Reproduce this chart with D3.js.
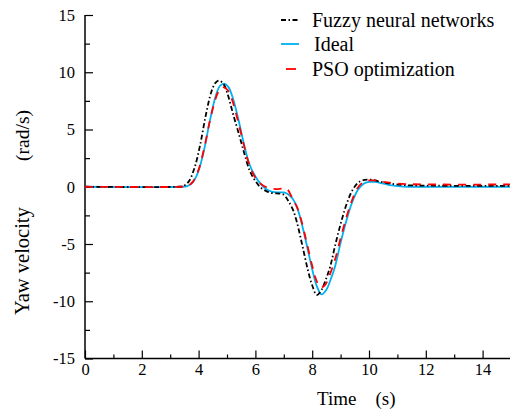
<!DOCTYPE html>
<html><head><meta charset="utf-8">
<script src="https://cdn.jsdelivr.net/npm/d3@7"></script>
<style>
html,body{margin:0;padding:0;background:#fff;}
</style></head>
<body>
<svg id="c" width="510" height="409"></svg>
<script>
// Data (time in s, yaw velocity in rad/s)
const fuzzyT = [0,3.3,3.45,3.65,3.85,4.05,4.25,4.45,4.6,4.72,4.87,5.02,5.22,5.42,5.6,5.8,6.0,6.2,6.4,6.6,6.85,7.0,7.15,7.32,7.45,7.65,7.85,8.0,8.16,8.33,8.48,8.63,8.83,9.04,9.24,9.44,9.64,9.85,10.05,10.3,10.7,11.2,12,15];
const fuzzyV = [0,0,0.05,0.45,1.6,3.6,6.2,8.3,9.1,9.27,9.0,8.1,6.3,4.6,3.0,1.4,0.5,-0.1,-0.4,-0.55,-0.6,-0.7,-1.2,-2.0,-3.0,-5.1,-7.3,-8.6,-9.45,-9.0,-8.1,-7.0,-4.9,-2.9,-1.3,-0.2,0.4,0.6,0.62,0.5,0.3,0.15,0.1,0.08];
const idealT = [0,3.4,3.6,3.8,4.0,4.2,4.4,4.6,4.75,4.9,5.05,5.2,5.4,5.6,5.8,6.0,6.2,6.4,6.6,6.8,7.0,7.15,7.3,7.45,7.6,7.8,8.0,8.15,8.33,8.5,8.65,8.8,9.0,9.2,9.4,9.6,9.8,10.0,10.2,10.5,10.8,11.1,11.4,15];
const idealV = [0,0,0.05,0.4,1.4,3.3,5.8,7.9,8.8,9.0,8.7,7.8,5.9,3.7,1.9,0.9,0.2,-0.25,-0.45,-0.5,-0.5,-0.65,-1.0,-1.7,-2.9,-5.0,-7.2,-8.6,-9.4,-9.0,-8.1,-7.0,-4.9,-3.0,-1.4,-0.3,0.25,0.42,0.42,0.28,0.12,0.03,0,0];
const psoT = [0,3.4,3.6,3.8,4.0,4.2,4.4,4.6,4.72,4.85,5.0,5.15,5.35,5.55,5.75,5.95,6.15,6.35,6.55,6.8,6.95,7.05,7.15,7.3,7.45,7.6,7.8,8.0,8.15,8.3,8.45,8.6,8.8,9.0,9.2,9.4,9.6,9.8,10.0,10.2,10.5,10.9,11.5,15];
const psoV = [0,0,0.05,0.45,1.5,3.4,5.8,7.7,8.4,8.7,8.5,7.8,6.1,4.1,2.2,1.0,0.35,0.0,-0.15,-0.2,-0.15,-0.12,-0.3,-1.0,-1.7,-2.8,-4.8,-6.9,-8.2,-8.8,-8.6,-7.8,-6.4,-4.5,-2.7,-1.2,-0.1,0.4,0.55,0.55,0.42,0.3,0.22,0.2];
const xTicks = [0,2,4,6,8,10,12,14];
const xMinor = [1,3,5,7,9,11,13];
const yTicks = [-15,-10,-5,0,5,10,15];
const yMinor = [-12.5,-7.5,-2.5,2.5,7.5,12.5];
const seriesNames = ["Fuzzy neural networks","Ideal","PSO optimization"];

const FONT = "'Liberation Serif','Times New Roman',serif";
const svg = d3.select("#c");
const x = d3.scaleLinear().domain([0,15]).range([85,511]);
const y = d3.scaleLinear().domain([-15,15]).range([358.5,15]);

const line = d3.line().x(d=>x(d[0])).y(d=>y(d[1])).curve(d3.curveCatmullRom.alpha(0.5));
const zip = (a,b)=>a.map((t,i)=>[t,b[i]]);

const styles = [
  {name:seriesNames[0], data:zip(fuzzyT,fuzzyV), color:"#000", dash:"5,2.5,1.5,2.5", w:1.8},
  {name:seriesNames[1], data:zip(idealT,idealV), color:"#00b0f0", dash:null, w:1.8},
  {name:seriesNames[2], data:zip(psoT,psoV), color:"#ff0000", dash:"8,7", w:1.8}
];

// axes
const gx = svg.append("g").attr("transform","translate(0,358.5)")
  .call(d3.axisBottom(x).tickValues(xTicks).tickSize(-8).tickPadding(5).tickFormat(d=>String(d)));
svg.append("g").attr("transform","translate(0,358.5)")
  .call(d3.axisBottom(x).tickValues(xMinor).tickSize(-4).tickFormat(""))
  .call(g=>g.select(".domain").remove());
const gy = svg.append("g").attr("transform","translate(85,0)")
  .call(d3.axisLeft(y).tickValues(yTicks).tickSize(-8).tickPadding(10).tickFormat(d=>String(d)));
svg.append("g").attr("transform","translate(85,0)")
  .call(d3.axisLeft(y).tickValues(yMinor).tickSize(-5).tickFormat(""))
  .call(g=>g.select(".domain").remove());
svg.selectAll("g").attr("font-family",FONT);
svg.selectAll(".domain").attr("stroke","#000").attr("stroke-width",1.5);
svg.selectAll(".tick line").attr("stroke","#000").attr("stroke-width",1.2);
svg.selectAll(".tick text").style("font-size","16.5px").style("font-family",FONT).attr("fill","#000");
gx.selectAll(".domain").attr("d","M85,0H511");
gy.selectAll(".domain").attr("d","M0,15V358.5");

// lines (draw ideal first)
[styles[1],styles[0],styles[2]].forEach(s=>{
  svg.append("path").datum(s.data).attr("d",line).attr("fill","none")
    .attr("stroke",s.color).attr("stroke-width",s.w)
    .attr("stroke-dasharray",s.dash);
});

// legend
const leg = svg.append("g");
const ly = [20,44,69];
styles.forEach((s,i)=>{
  const x0 = i===2 ? 286 : 281, x1 = i===2 ? 296 : 299;
  leg.append("line").attr("x1",x0).attr("x2",x1).attr("y1",ly[i]).attr("y2",ly[i])
    .attr("stroke",s.color).attr("stroke-width",1.8).attr("stroke-dasharray", i===0 ? "5,2.5,1.5,2.5" : null);
  leg.append("text").attr("x", i===1 ? 314 : 312).attr("y",ly[i]+7)
    .style("font-family",FONT).style("font-size","20px").text(s.name);
});

// axis titles
svg.append("text").attr("x",317).attr("y",405).style("font-family",FONT).style("font-size","19px").style("white-space","pre").text("Time    (s)");
const yl = svg.append("g").attr("transform","translate(28.5,0) rotate(-90)");
yl.append("text").attr("x",-315).attr("y",0)
  .style("font-family",FONT).style("font-size","20.5px").text("Yaw velocity");
yl.append("text").attr("x",-110).attr("y",0).attr("text-anchor","end")
  .style("font-family",FONT).style("font-size","19.5px").text("(rad/s)");
</script>
</body></html>
